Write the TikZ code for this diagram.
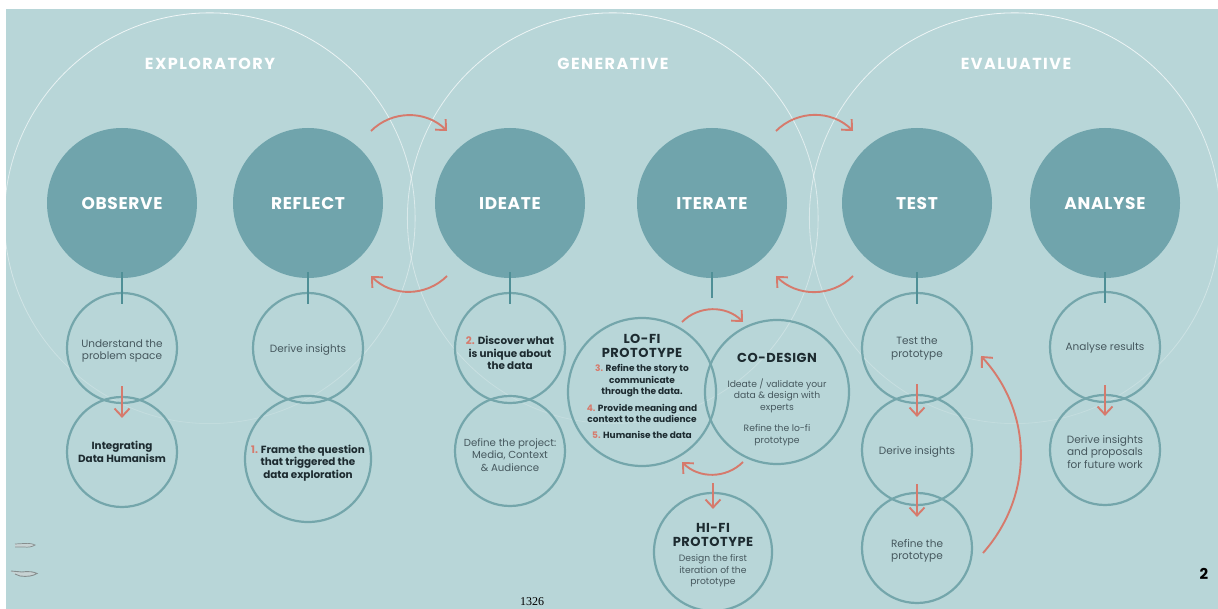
\documentclass[tikz,border=0pt]{standalone}
\usepackage{fontspec}
\setmainfont{Poppins}
\newfontfamily\pagefont{Liberation Serif}
\usetikzlibrary{arrows.meta,fadings}
\definecolor{panelbg}{HTML}{B8D6D8}
\definecolor{tealfill}{HTML}{70A4AC}
\definecolor{tealline}{HTML}{74A6AB}
\definecolor{stemline}{HTML}{4F8F96}
\definecolor{redline}{HTML}{D67A6C}
\definecolor{bodytext}{HTML}{46585E}
\definecolor{boldtext}{HTML}{1D2B30}
\tikzfading[name=ringfade,top color=transparent!20,bottom color=transparent!85]
\tikzset{
  phase/.style={circle,draw=white,path fading=ringfade,line width=.8pt,minimum size=411pt,inner sep=0pt},
  phasetitle/.style={text=white,font=\fontsize{16}{18}\selectfont\bfseries\addfontfeature{LetterSpace=9}},
  stage/.style={circle,fill=tealfill,minimum size=150pt,inner sep=0pt,text=white,font=\fontsize{17}{19}\selectfont\bfseries\addfontfeature{LetterSpace=4}},
  ring/.style={circle,draw=tealline,line width=2.2pt,minimum size=110pt,inner sep=0pt},
  ringbody/.style={align=center,inner sep=0pt,text=bodytext,font=\fontsize{10.5}{12.7}\selectfont},
  ringtext/.style={align=center,inner sep=0pt,text=bodytext,font=\fontsize{9.2}{11.5}\selectfont},
  strong/.style={align=center,inner sep=0pt,text=boldtext,font=\fontsize{10.4}{12.7}\selectfont\bfseries},
  stronger/.style={align=center,inner sep=0pt,text=boldtext,font=\fontsize{9}{11.4}\selectfont\bfseries},
  heading/.style={align=center,inner sep=0pt,text=boldtext,font=\fontsize{13}{14}\selectfont\bfseries\addfontfeature{LetterSpace=4}},
  stem/.style={draw=stemline,line width=1.6pt},
  flow/.style={draw=redline,line width=1.9pt,->},
}
\newcommand{\num}[1]{{\color{redline}#1}}
\begin{document}
\begin{tikzpicture}[x=1pt,y=1pt,>={Straight Barb[length=8pt,width=15pt]}]
\useasboundingbox (0,0) rectangle (1218,-609);
\fill[panelbg] (6,-9) rectangle (1218,-609);

% big outlines
\node[phase] (p1) at (210,-218) {};
\node[phase] (p2) at (613,-218) {};
\node[phase] (p3) at (1015,-218) {};
\node[phasetitle] (t1) at (210,-64) {EXPLORATORY};
\node[phasetitle] (t2) at (613,-64) {GENERATIVE};
\node[phasetitle] (t3) at (1016,-64) {EVALUATIVE};

% stages
\foreach \name/\x/\txt in {observe/122/OBSERVE, reflect/308/REFLECT, ideate/510/IDEATE, iterate/712/ITERATE, test/917/TEST, analyse/1105/ANALYSE}
	\node[stage] (\name) at (\x,-203) {\smash{\raisebox{-6.5pt}{\txt}}};

% circles below the stages
\foreach \name/\x/\y in {o1/122/348, o2/122/452, r1/308/348, i1/510/348, i2/510/451, e1/917/348, e2/917/450, e3/917/548, a1/1105/347, a2/1105/450}
	\node[ring] (\name) at (\x,-\y) {};
\node[ring,minimum size=126pt] (r2) at (308,-459) {};
\node[ring,minimum size=148pt] (lofi) at (642,-392) {};
\node[ring,minimum size=144pt] (codesign) at (777,-392) {};
\node[ring,minimum size=118pt] (hifi) at (713,-552) {};

\node[ringbody] (o1t) at (122,-351) {Understand the\\problem space};
\node[ringbody] (r1t) at (308,-350) {Derive insights};
\node[ringbody,font=\fontsize{10.2}{12.7}\selectfont] (i2t) at (510,-455) {Define the project:\\Media, Context\\\& Audience};
\node[ringbody] (e1t) at (917,-348.5) {Test the\\prototype};
\node[ringbody] (e2t) at (917,-452) {Derive insights};
\node[ringbody] (e3t) at (917,-551) {Refine the\\prototype};
\node[ringbody] (a1t) at (1105,-347.5) {Analyse results};
\node[ringbody] (a2t) at (1105,-452) {Derive insights\\and proposals\\for future work};

\node[strong] (o2t) at (122,-452) {Integrating\\Data Humanism};
\node[strong] (r2t) at (308,-463) {\num{1.} Frame the question\\that triggered the\\data exploration};
\node[strong] (i1t) at (510,-353) {\num{2.} Discover what\\is unique about\\the data};

\node[heading] (lh) at (642,-346) {LO-FI\\PROTOTYPE};
\node[stronger] (l3) at (642,-381) {\num{3.} Refine the story to\\communicate\\through the data.};
\node[stronger] (l4) at (642,-413.5) {\num{4.} Provide meaning and\\context to the audience};
\node[stronger] (l5) at (642,-435) {\num{5.} Humanise the data};

\node[heading] (ch) at (777,-358) {CO-DESIGN};
\node[ringtext] (c1) at (777,-395.5) {Ideate / validate your\\data \& design with\\experts};
\node[ringtext] (c2) at (777,-435) {Refine the lo-fi\\prototype};

\node[heading] (hh) at (713,-535) {HI-FI\\PROTOTYPE};
\node[ringtext] (h1) at (713,-571) {Design the first\\iteration of the\\prototype};

\node[text=black,font=\fontsize{15}{17}\selectfont\bfseries] (pg) at (1204,-574) {2};
\node[text=black,font=\pagefont\fontsize{12}{14}\selectfont] (yr) at (532,-602) {1326};

% stems
\foreach \a/\b in {observe/o1, reflect/r1, ideate/i1, test/e1, analyse/a1}
	\draw[stem] ([yshift=6pt]\a.south)--([yshift=-12pt]\b.north);
\coordinate (itend) at (712,-298);
\draw[stem] ([yshift=6pt]iterate.south)--(itend);

% arrows between the circles
\foreach \a/\b/\s/\t in {o1/o2/18/22, e1/e2/20/23, e2/e3/22/25, a1/a2/18/22}
	\draw[flow] ([yshift=\s pt]\a.south)--([yshift=-\t pt]\b.north);
\coordinate (hs) at (713,-483);
\draw[flow] (hs)--([yshift=-17pt]hifi.north);

% curved arrows
\coordinate (s1) at (371,-131);
\coordinate (s2) at (447,-131);
\coordinate (s3) at (776,-131);
\coordinate (s4) at (853,-131);
\coordinate (s5) at (447,-276);
\coordinate (s6) at (371,-276);
\coordinate (s7) at (853,-276);
\coordinate (s8) at (776,-276);
\coordinate (s9) at (682,-322);
\coordinate (s10) at (743,-322);
\coordinate (s11) at (743,-462);
\coordinate (s12) at (682,-462);
\coordinate (s13) at (983,-553);
\coordinate (s14) at (981,-356);
\begin{scope}[flow]
\draw (s1) to[bend left=45] (s2);
\draw (s3) to[bend left=45] (s4);
\draw (s5) to[bend left=45] (s6);
\draw (s7) to[bend left=45] (s8);
\draw (s9) to[bend left=45] (s10);
\draw (s11) to[bend left=45] (s12);
\draw (s13) to[bend right=42] (s14);
\end{scope}

% small marks bottom left
\draw[fill=gray!35,draw=gray!75!black,line width=.7pt,opacity=.6] (15,-544) -- (24,-543.5) .. controls (30,-543) and (33,-544) .. (35,-545) .. controls (32,-547) and (28,-547.5) .. (24,-547) -- (15,-547);
\draw[fill=gray!35,draw=gray!75!black,line width=.9pt,opacity=.6] (11,-571) -- (22,-572) .. controls (30,-571) and (34,-572) .. (37,-573.5) .. controls (33,-576) and (27,-577) .. (20,-576) -- (15,-574);
\end{tikzpicture}
\end{document}
